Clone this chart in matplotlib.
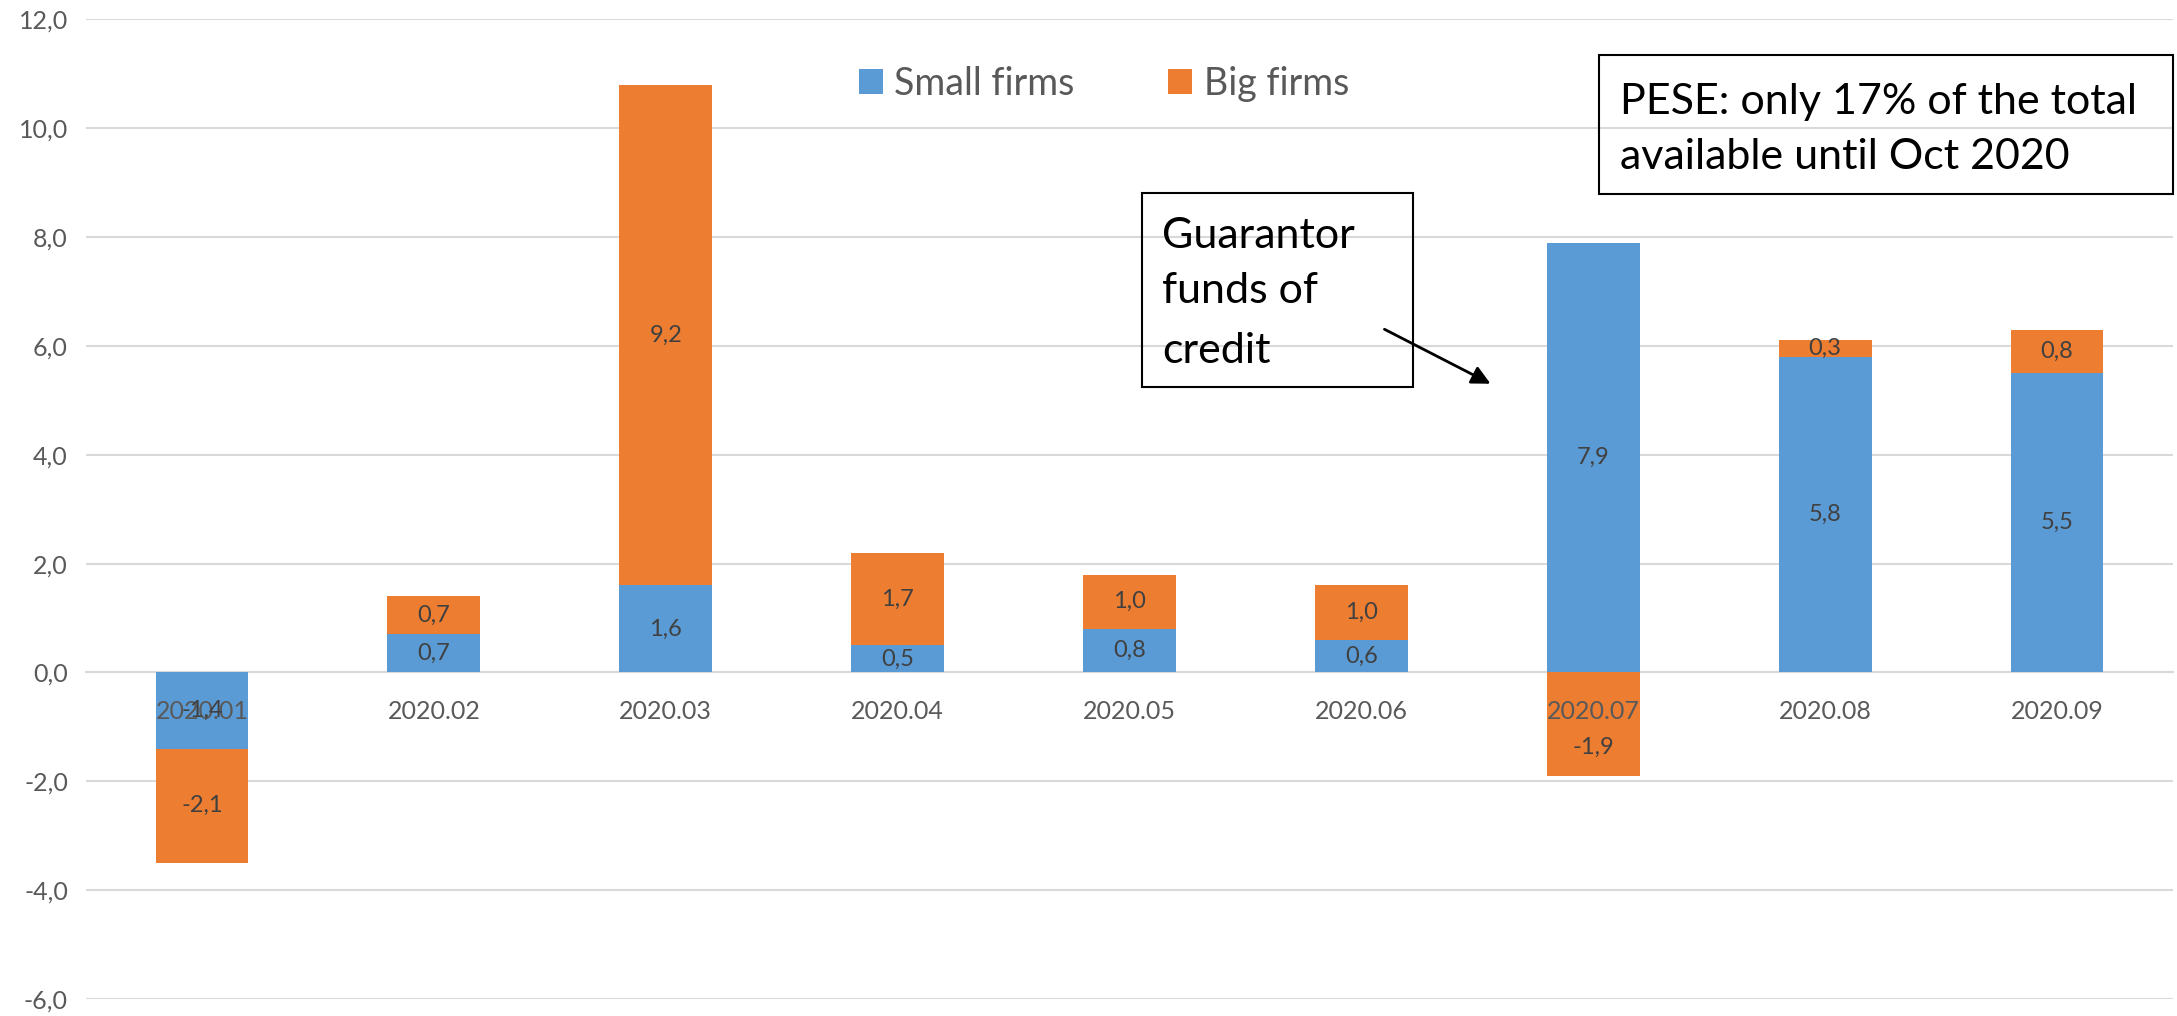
import numpy as np
import matplotlib.pyplot as plt
from matplotlib.patches import Rectangle

plt.rcParams['font.family'] = ['Lato', 'DejaVu Sans']

# --------------------------------------------------
# data
# --------------------------------------------------
months = ['2020.01', '2020.02', '2020.03', '2020.04', '2020.05',
          '2020.06', '2020.07', '2020.08', '2020.09']
small_firms = [-1.4, 0.7, 1.6, 0.5, 0.8, 0.6, 7.9, 5.8, 5.5]
big_firms = [-2.1, 0.7, 9.2, 1.7, 1.0, 1.0, -1.9, 0.3, 0.8]
y_ticks = [-6, -4, -2, 0, 2, 4, 6, 8, 10, 12]

blue = '#5B9BD5'
orange = '#ED7D31'
W, H = 2177, 1016


def fmt(v):
    return f'{v:.1f}'.replace('.', ',')


fig = plt.figure(figsize=(W / 100, H / 100), dpi=100)
ax = fig.add_axes([86 / W, 1 - 999 / H, (2173 - 86) / W, (999 - 19.4) / H])

x = np.arange(len(months))
small = np.array(small_firms)
big = np.array(big_firms)
# excel stacks positive and negative parts separately
big_bottom = np.where(np.sign(big) == np.sign(small), small, 0)

ax.bar(x, small, 0.4, color=blue, label='Small firms', zorder=2)
ax.bar(x, big, 0.4, bottom=big_bottom, color=orange, label='Big firms', zorder=2)

# labels in the middle of each piece (the -1,9 one sits a bit lower in the original)
nudge = {6: -0.43}
for i in x:
    ax.text(i, small[i] / 2, fmt(small[i]), ha='center', va='center',
            fontsize=17, color='#404040', zorder=3)
    ax.text(i, big_bottom[i] + big[i] / 2 + nudge.get(i, 0), fmt(big[i]),
            ha='center', va='center', fontsize=17, color='#404040', zorder=3)

ax.set_xlim(-0.5, len(months) - 0.5)
ax.set_ylim(-6, 12)
ax.set_yticks(y_ticks)
ax.set_yticklabels([fmt(t) for t in y_ticks])
ax.set_xticks(x)
ax.set_xticklabels(months)
ax.yaxis.grid(True, color='#D9D9D9', lw=1.5)
ax.set_axisbelow(True)
# category labels are drawn on top of the bars, like in excel
ax.xaxis.set_zorder(2.5)

for s in ['top', 'left', 'right']:
    ax.spines[s].set_visible(False)
ax.spines['bottom'].set_position(('data', 0))
ax.spines['bottom'].set_color('#D9D9D9')
ax.spines['bottom'].set_linewidth(1.5)
ax.spines['bottom'].set_zorder(1)
ax.tick_params(axis='x', length=0, pad=20, labelsize=18, labelcolor='#595959')
ax.tick_params(axis='y', length=0, pad=13, labelsize=18, labelcolor='#595959')

ax.legend(loc='center', bbox_to_anchor=(1104 / W, 1 - 84 / H),
          bbox_transform=fig.transFigure, ncol=2, frameon=False, fontsize=27,
          handlelength=0.64, handleheight=0.64, handletextpad=0.3,
          columnspacing=2.5, labelcolor='#595959')

# annotation boxes
fig.add_artist(Rectangle((1599 / W, 1 - 194 / H), (2173 - 1599) / W, (194 - 55) / H,
                         transform=fig.transFigure, fill=False, ec='black', lw=1.5))
fig.text(1620 / W, 1 - 114 / H, 'PESE: only 17% of the total', va='baseline', fontsize=31)
fig.text(1620 / W, 1 - 169 / H, 'available until Oct 2020', va='baseline', fontsize=31)

fig.add_artist(Rectangle((1142 / W, 1 - 387 / H), (1413 - 1142) / W, (387 - 193) / H,
                         transform=fig.transFigure, fill=False, ec='black', lw=1.5))
for txt, base in zip(['Guarantor', 'funds of', 'credit'], [248, 303, 363]):
    fig.text(1162 / W, 1 - base / H, txt, va='baseline', fontsize=31)

ax.annotate('', xy=(1493 / W, 1 - 385 / H), xytext=(1382 / W, 1 - 328 / H),
            xycoords='figure fraction', textcoords='figure fraction',
            arrowprops=dict(arrowstyle='-|>', color='black', lw=2, mutation_scale=28))

fig.savefig('out.png', dpi=100)
